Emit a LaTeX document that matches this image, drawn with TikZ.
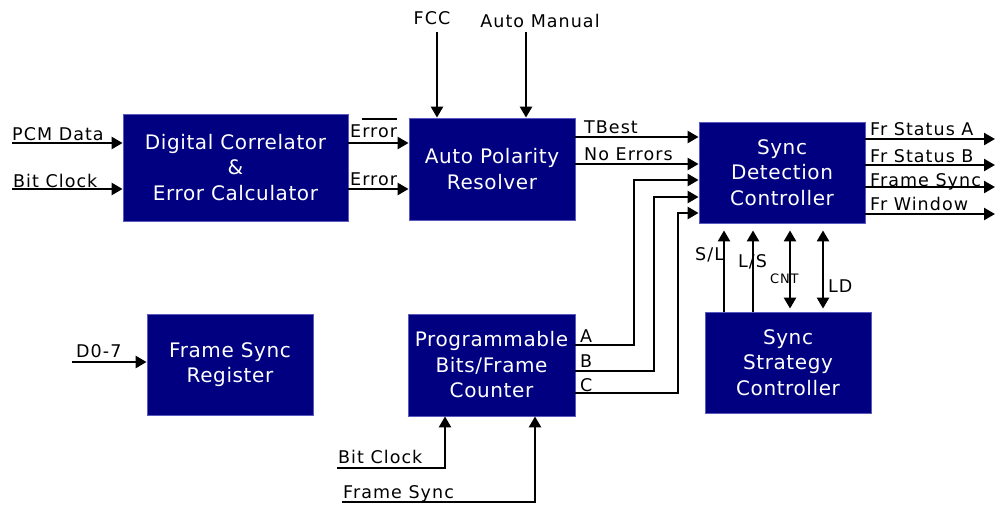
\documentclass[tikz,border=0pt]{standalone}
\usepackage{fontspec}
\setmainfont{DejaVu Sans}
\newfontfamily\boxfont[LetterSpace=3]{DejaVu Sans}
\newfontfamily\lblfont[LetterSpace=6]{DejaVu Sans}
\usetikzlibrary{arrows.meta}
\definecolor{navy}{RGB}{0,0,128}
\definecolor{navyedge}{RGB}{90,90,190}
\begin{document}
\begin{tikzpicture}[x=1pt,y=-1pt,
  blk/.style={rectangle, fill=navy, draw=navyedge, line width=0.8pt, inner sep=0pt, text=white, align=center, font=\boxfont\fontsize{20}{25.5}\selectfont},
  wire/.style={line width=2.4pt, black},
  tip/.tip={Triangle[length=11pt,width=12pt]},
  arr/.style={wire, -tip},
  darr/.style={wire, tip-tip},
  lbl/.style={anchor=base west, inner sep=0pt, font=\lblfont\fontsize{17.5}{20}\selectfont},
  clbl/.style={lbl, anchor=base},
]
\useasboundingbox (0,0) rectangle (995,504);

% blocks
\node[blk, minimum width=225pt, minimum height=107pt] (dcec) at (235.5,167.5) {Digital Correlator\\\&\\Error Calculator};
\node[blk, minimum width=166pt, minimum height=102pt] (apr) at (492,169) {Auto Polarity\\Resolver};
\node[blk, minimum width=166pt, minimum height=101pt] (sdc) at (782,172.5) {Sync\\Detection\\Controller};
\node[blk, minimum width=166pt, minimum height=101pt] (fsr) at (230,364.5) {Frame Sync\\Register};
\node[blk, minimum width=167pt, minimum height=102pt] (pbf) at (491.5,365) {Programmable\\Bits/Frame\\Counter};
\node[blk, minimum width=166pt, minimum height=101pt] (ssc) at (788,362.5) {Sync\\Strategy\\Controller};

% free ends
\coordinate (pcm) at (12,143);
\coordinate (bclk) at (12,189);
\coordinate (fcc) at (437,32);
\coordinate (am) at (526,32);
\coordinate (d07) at (72,362);
\coordinate (bclk2) at (337,468);
\coordinate (fsync) at (342,502);
\coordinate (o1) at (995,139);
\coordinate (o2) at (995,165);
\coordinate (o3) at (995,187);
\coordinate (o4) at (995,214);

% left inputs
\draw[arr] (pcm) -- (dcec.west |- pcm);
\draw[arr] (bclk) -- (dcec.west |- bclk);
\node[lbl] (lpcm) at (12,140) {PCM Data};
\node[lbl] (lbclk) at (13,187) {Bit Clock};

% dcec -> apr
\draw[arr] (dcec.east |- 0,143) -- (apr.west |- 0,143);
\draw[arr] (dcec.east |- 0,189) -- (apr.west |- 0,189);
\node[lbl] (lerrb) at (350,137) {Error};
\draw[line width=1.2pt] ([xshift=12pt,yshift=5pt]lerrb.north west) -- ([yshift=5pt]lerrb.north east);
\node[lbl] (lerr) at (350,185) {Error};

% top inputs
\draw[arr] (fcc) -- (apr.north -| fcc);
\draw[arr] (am) -- (apr.north -| am);
\node[clbl] (lfcc) at (432,24) {FCC};
\node[clbl] (lam) at (540,27) {Auto Manual};

% apr -> sdc
\draw[arr] (apr.east |- 0,137) -- (sdc.west |- 0,137);
\draw[arr] (apr.east |- 0,164) -- (sdc.west |- 0,164);
\node[lbl] (ltb) at (584,133) {TBest};
\node[lbl] (lne) at (584,160) {No Errors};

% pbf A B C -> sdc
\draw[arr] (pbf.east |- 0,345) -- (634,345) -- (634,180) -- (sdc.west |- 0,180);
\draw[arr] (pbf.east |- 0,371) -- (654,371) -- (654,197) -- (sdc.west |- 0,197);
\draw[arr] (pbf.east |- 0,393) -- (678,393) -- (678,213) -- (sdc.west |- 0,213);
\node[lbl] (la) at (580,342) {A};
\node[lbl] (lb) at (580,367) {B};
\node[lbl] (lc) at (580,391) {C};

% sdc outputs
\draw[arr] (sdc.east |- o1) -- (o1);
\draw[arr] (sdc.east |- o2) -- (o2);
\draw[arr] (sdc.east |- o3) -- (o3);
\draw[arr] (sdc.east |- o4) -- (o4);
\node[lbl] (lo1) at (870,135) {Fr Status A};
\node[lbl] (lo2) at (870,162) {Fr Status B};
\node[lbl] (lo3) at (870,186) {Frame Sync};
\node[lbl] (lo4) at (870,210) {Fr Window};

% sdc <-> ssc
\draw[arr, shorten >=7pt] (ssc.north -| 724,0) -- (sdc.south -| 724,0);
\draw[arr, shorten >=7pt] (ssc.north -| 753,0) -- (sdc.south -| 753,0);
\draw[darr, shorten >=7pt, shorten <=3pt] (ssc.north -| 790,0) -- (sdc.south -| 790,0);
\draw[darr, shorten >=7pt, shorten <=3pt] (ssc.north -| 823,0) -- (sdc.south -| 823,0);
\node[lbl] (lsl) at (695,260) {S/L};
\node[lbl] (lls) at (738,267) {L/S};
\node[lbl, font=\lblfont\fontsize{13}{15}\selectfont] (lcnt) at (770,283) {CNT};
\node[lbl] (lld) at (828,292) {LD};

% frame sync register input
\draw[arr] (d07) -- (fsr.west |- d07);
\node[lbl] (ld07) at (76,357) {D0-7};

% bottom inputs to pbf
\draw[arr] (bclk2) -- (445,468) -- (pbf.south -| 445,0);
\draw[arr] (fsync) -- (535,502) -- (pbf.south -| 535,0);
\node[lbl] (lbclk2) at (338,463) {Bit Clock};
\node[lbl] (lfsync) at (343,498) {Frame Sync};
\end{tikzpicture}
\end{document}
